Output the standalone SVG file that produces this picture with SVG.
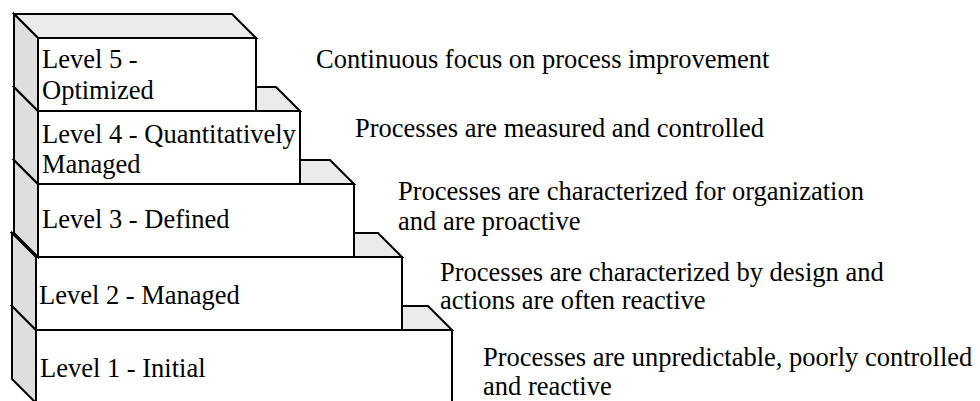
<svg xmlns="http://www.w3.org/2000/svg" width="980" height="401" viewBox="0 0 980 401">
<style>
.front{fill:#ffffff;stroke:#000;stroke-width:2;stroke-linejoin:miter}
.top{fill:#ebebeb;stroke:#000;stroke-width:2;stroke-linejoin:miter}
.side{fill:#dedede;stroke:#000;stroke-width:2;stroke-linejoin:miter}
text{font-family:"Liberation Serif","Times New Roman",serif;font-size:26.5px;fill:#000}
</style>
<rect x="0" y="0" width="980" height="401" fill="#ffffff"/>
<g id="level1">
<polygon class="top" points="36,330 12,306 428,306 452,330"/>
<polygon class="side" points="36,330 12,306 12,379 36,403"/>
<rect class="front" x="36" y="330" width="416" height="73"/>
<text x="40" y="377">Level 1 - Initial</text>
<text x="483" y="366">Processes are unpredictable, poorly controlled</text>
<text x="483" y="395">and reactive</text>
</g>
<g id="level2">
<polygon class="top" points="36,257 12,233 378,233 402,257"/>
<polygon class="side" points="36,257 12,233 12,306 36,330"/>
<rect class="front" x="36" y="257" width="366" height="73"/>
<text x="39" y="304">Level 2 - Managed</text>
<text x="440" y="281">Processes are characterized by design and</text>
<text x="440" y="309">actions are often reactive</text>
</g>
<g id="level3">
<polygon class="top" points="38,184 14,160 330,160 354,184"/>
<polygon class="side" points="38,184 14,160 14,233 38,257"/>
<rect class="front" x="38" y="184" width="316" height="73"/>
<text x="42" y="228">Level 3 - Defined</text>
<text x="398" y="200">Processes are characterized for organization</text>
<text x="398" y="230">and are proactive</text>
</g>
<g id="level4">
<polygon class="top" points="38,111 14,87 276,87 300,111"/>
<polygon class="side" points="38,111 14,87 14,160 38,184"/>
<rect class="front" x="38" y="111" width="262" height="73"/>
<text x="42" y="143">Level 4 - Quantitatively</text>
<text x="42" y="173">Managed</text>
<text x="355" y="137">Processes are measured and controlled</text>
</g>
<g id="level5">
<polygon class="top" points="38,38 14,14 232,14 256,38"/>
<polygon class="side" points="38,38 14,14 14,87 38,111"/>
<rect class="front" x="38" y="38" width="218" height="73"/>
<text x="42" y="68">Level 5 -</text>
<text x="42" y="99">Optimized</text>
<text x="316" y="68">Continuous focus on process improvement</text>
</g>
<g id="connectors"/>
</svg>
